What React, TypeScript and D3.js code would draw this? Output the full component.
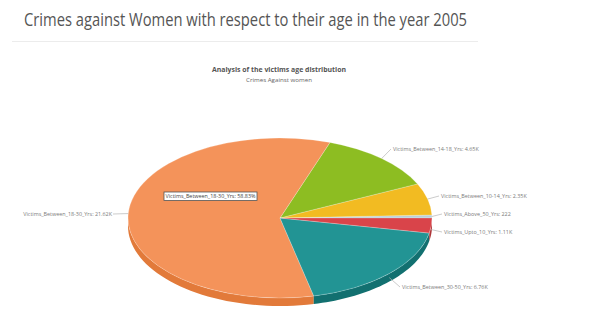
import React from "react";
import * as d3 from "d3";

const categories = [
  "Victims_Above_50_Yrs",
  "Victims_Between_10-14_Yrs",
  "Victims_Between_14-18_Yrs",
  "Victims_Between_18-30_Yrs",
  "Victims_Between_30-50_Yrs",
  "Victims_Upto_10_Yrs",
];
const values = [222, 2350, 4650, 21620, 6760, 1110];
const valueLabels = ["222", "2.35K", "4.65K", "21.62K", "6.76K", "1.11K"];
const topColors = ["#b9d0da", "#f2bb22", "#8dbd22", "#f4935a", "#229494", "#d9444a"];
const sideColors = ["#8fa9b4", "#c99a1a", "#6f9419", "#e27a3a", "#127070", "#ad3538"];
const tooltipText = "Victims_Between_18-30_Yrs: 58.83%";

const W = 596, H = 327;
const cx = 280, cy = 218, rx = 152, ry = 80, depth = 8;

const labelPos: [number, number, "start" | "end"][] = [
  [444, 214, "start"],
  [441, 196, "start"],
  [393, 149, "start"],
  [112, 214, "end"],
  [402, 287, "start"],
  [444, 232, "start"],
];

export default function App() {
  const pie = d3
    .pie<number>()
    .sort(null)
    .startAngle(Math.PI / 2)
    .endAngle(Math.PI / 2 - 2 * Math.PI);
  const arcs = pie(values);
  const arc = d3.arc<d3.PieArcDatum<number>>().innerRadius(0).outerRadius(rx);

  const toT = (a: number) => Math.PI / 2 - a;
  const px = (t: number) => cx + rx * Math.cos(t);
  const py = (t: number) => cy - ry * Math.sin(t);

  const walls = arcs.map((d, i) => {
    const t0 = toT(d.startAngle);
    const t1 = toT(d.endAngle);
    const lo = Math.max(t0, Math.PI);
    const hi = Math.min(t1, 2 * Math.PI);
    if (hi <= lo) return null;
    const n = 40;
    const pts: [number, number][] = [];
    for (let k = 0; k <= n; k++) {
      const t = lo + ((hi - lo) * k) / n;
      pts.push([px(t), py(t)]);
    }
    const back = pts.slice().reverse().map(([x, y]) => [x, y + depth] as [number, number]);
    const path = d3.line()([...pts, ...back]) + "Z";
    return <path key={"w" + i} d={path} fill={sideColors[i]} />;
  });

  const labels = arcs.map((d, i) => {
    const mid = toT((d.startAngle + d.endAngle) / 2);
    const ex = px(mid);
    const ey = py(mid) + (Math.sin(mid) < 0 ? depth / 2 : 0);
    const [lx, ly, anchor] = labelPos[i];
    const lineEnd = anchor === "start" ? lx - 2 : lx + 1;
    return (
      <g key={"l" + i}>
        <line x1={ex} y1={ey} x2={lineEnd} y2={ly} stroke="#b5b5b5" strokeWidth={0.7} />
        <text
          x={lx}
          y={ly}
          dy="0.35em"
          textAnchor={anchor}
          fontSize={5.4}
          fill="#7a7a7a"
          fontFamily="'Open Sans', sans-serif"
        >
          {categories[i]}: {valueLabels[i]}
        </text>
      </g>
    );
  });

  return (
    <svg width={W} height={H} style={{ position: "absolute", left: 0, top: 0, background: "#fff" }}>
      <defs>
        {topColors.map((c, i) => (
          <radialGradient
            key={"g" + i}
            id={"grad" + i}
            gradientUnits="userSpaceOnUse"
            cx={cx + 40}
            cy={cy + 70}
            r={230}
          >
            <stop offset="0%" stopColor={d3.color(c)!.brighter(0.45).formatHex()} />
            <stop offset="100%" stopColor={c} />
          </radialGradient>
        ))}
      </defs>
      <text
        x={24}
        y={26}
        fontSize={18.5}
        fill="#555"
        fontFamily="'Open Sans', sans-serif"
        textLength={443}
        lengthAdjust="spacingAndGlyphs"
      >
        Crimes against Women with respect to their age in the year 2005
      </text>
      <line x1={12} y1={41.5} x2={478} y2={41.5} stroke="#ececec" strokeWidth={1} />
      <text x={279} y={70} dy="0.35em" textAnchor="middle" fontSize={7} fontWeight="bold" fill="#555"
        fontFamily="'Open Sans', sans-serif" textLength={134} lengthAdjust="spacingAndGlyphs">
        Analysis of the victims age distribution
      </text>
      <text x={279} y={80} dy="0.35em" textAnchor="middle" fontSize={5.5} fill="#666"
        fontFamily="'Open Sans', sans-serif" textLength={66} lengthAdjust="spacingAndGlyphs">
        Crimes Against women
      </text>
      {walls}
      <g transform={`translate(${cx},${cy}) scale(1,${ry / rx})`}>
        {arcs.map((d, i) => (
          <path key={"p" + i} d={arc(d) || ""} fill={`url(#grad${i})`} stroke="#fff" strokeWidth={0.3} />
        ))}
      </g>
      {labels}
      <rect x={164} y={192} width={93} height={8.5} fill="#fff" stroke="#555" strokeWidth={0.8} />
      <text x={210.5} y={196.3} dy="0.35em" textAnchor="middle" fontSize={5.4} fill="#444"
        fontFamily="'Open Sans', sans-serif">
        {tooltipText}
      </text>
    </svg>
  );
}
